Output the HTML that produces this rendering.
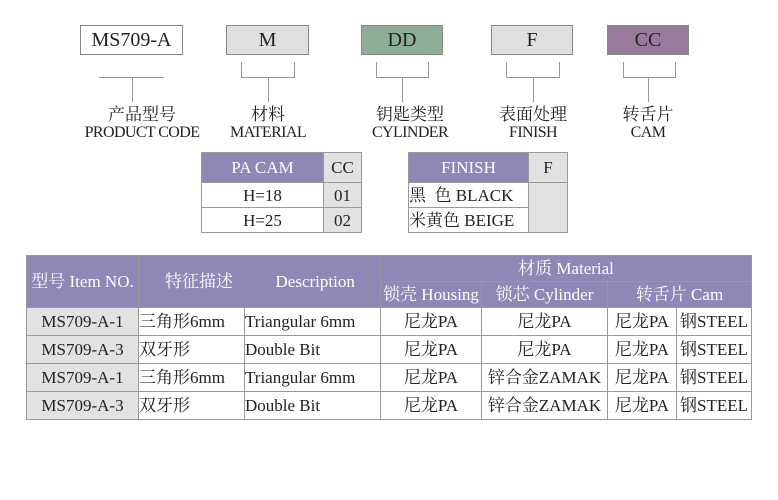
<!DOCTYPE html>
<html><head><meta charset="utf-8"><style>
body{margin:0;width:778px;height:500px;background:#fff;position:relative;overflow:hidden;font-family:"Liberation Serif","Noto Serif CJK SC",serif;color:#222}
.a{position:absolute;box-sizing:border-box}
.box{border:1.5px solid #888;text-align:center;font-size:20px;line-height:28px;height:30px;top:25px}
.ln{position:absolute;background:#999}
.lab{position:absolute;text-align:center;font-size:17px;line-height:18px;width:160px;top:106px}
.lab span{display:block;letter-spacing:-0.6px;font-size:16px}
table{border-collapse:collapse;position:absolute;font-size:17px;line-height:1}
td{border:1px solid #999;padding:0;text-align:center;white-space:nowrap;overflow:hidden;vertical-align:middle}
.h{background:#8f88b6;color:#fff}
.g{background:#e2e2e2}
</style></head><body>
<div class="a box" style="left:80px;width:103px;background:#fff">MS709-A</div>
<div class="a box" style="left:226px;width:83px;background:#e0e0e0">M</div>
<div class="a box" style="left:361px;width:82px;background:#8fae98">DD</div>
<div class="a box" style="left:491px;width:82px;background:#e0e0e0">F</div>
<div class="a box" style="left:607px;width:82px;background:#9a7a9c">CC</div>

<div class="ln" style="left:99px;top:77px;width:65px;height:1px"></div>
<div class="ln" style="left:132px;top:77px;width:1px;height:25px"></div>

<div class="ln" style="left:241px;top:62px;width:1px;height:15px"></div><div class="ln" style="left:294px;top:62px;width:1px;height:15px"></div>
<div class="ln" style="left:241px;top:77px;width:54px;height:1px"></div><div class="ln" style="left:268px;top:77px;width:1px;height:25px"></div>

<div class="ln" style="left:376px;top:62px;width:1px;height:15px"></div><div class="ln" style="left:428px;top:62px;width:1px;height:15px"></div>
<div class="ln" style="left:376px;top:77px;width:53px;height:1px"></div><div class="ln" style="left:402px;top:77px;width:1px;height:25px"></div>

<div class="ln" style="left:506px;top:62px;width:1px;height:15px"></div><div class="ln" style="left:559px;top:62px;width:1px;height:15px"></div>
<div class="ln" style="left:506px;top:77px;width:54px;height:1px"></div><div class="ln" style="left:533px;top:77px;width:1px;height:25px"></div>

<div class="ln" style="left:623px;top:62px;width:1px;height:15px"></div><div class="ln" style="left:675px;top:62px;width:1px;height:15px"></div>
<div class="ln" style="left:623px;top:77px;width:53px;height:1px"></div><div class="ln" style="left:648px;top:77px;width:1px;height:25px"></div>

<div class="lab" style="left:62px">产品型号<span>PRODUCT CODE</span></div>
<div class="lab" style="left:188px">材料<span>MATERIAL</span></div>
<div class="lab" style="left:330px">钥匙类型<span>CYLINDER</span></div>
<div class="lab" style="left:453px">表面处理<span>FINISH</span></div>
<div class="lab" style="left:568px">转舌片<span>CAM</span></div>

<table style="left:201px;top:152px;width:161px">
<tr style="height:30px"><td class="h" style="width:121px">PA CAM</td><td class="g">CC</td></tr>
<tr style="height:25px"><td>H=18</td><td class="g">01</td></tr>
<tr style="height:25px"><td>H=25</td><td class="g">02</td></tr>
</table>
<table style="left:408px;top:152px;width:160px">
<tr style="height:30px"><td class="h" style="width:119px">FINISH</td><td class="g">F</td></tr>
<tr style="height:25px"><td style="text-align:left">黑&nbsp;&nbsp;色 BLACK</td><td class="g" rowspan="2"></td></tr>
<tr style="height:25px"><td style="text-align:left">米黄色 BEIGE</td></tr>
</table>

<table style="left:26px;top:255px;width:726px">
<tr style="height:26px"><td class="h" rowspan="2" style="width:111px">型号 Item NO.</td><td class="h" rowspan="2" colspan="2" style="text-align:left;padding-left:26px">特征描述&nbsp;&nbsp;&nbsp;&nbsp;&nbsp;&nbsp;&nbsp;&nbsp;&nbsp;&nbsp;Description</td><td class="h" colspan="4">材质 Material</td></tr>
<tr style="height:26px"><td class="h" style="width:100px">锁壳 Housing</td><td class="h" style="width:125px">锁芯 Cylinder</td><td class="h" colspan="2">转舌片 Cam</td></tr>
<tr style="height:28px"><td class="g">MS709-A-1</td><td style="width:105px;text-align:left">三角形6mm</td><td style="width:135px;text-align:left">Triangular 6mm</td><td>尼龙PA</td><td>尼龙PA</td><td style="width:68px">尼龙PA</td><td>钢STEEL</td></tr>
<tr style="height:28px"><td class="g">MS709-A-3</td><td style="text-align:left">双牙形</td><td style="text-align:left">Double Bit</td><td>尼龙PA</td><td>尼龙PA</td><td>尼龙PA</td><td>钢STEEL</td></tr>
<tr style="height:28px"><td class="g">MS709-A-1</td><td style="text-align:left">三角形6mm</td><td style="text-align:left">Triangular 6mm</td><td>尼龙PA</td><td>锌合金ZAMAK</td><td>尼龙PA</td><td>钢STEEL</td></tr>
<tr style="height:28px"><td class="g">MS709-A-3</td><td style="text-align:left">双牙形</td><td style="text-align:left">Double Bit</td><td>尼龙PA</td><td>锌合金ZAMAK</td><td>尼龙PA</td><td>钢STEEL</td></tr>
</table>
</body></html>
